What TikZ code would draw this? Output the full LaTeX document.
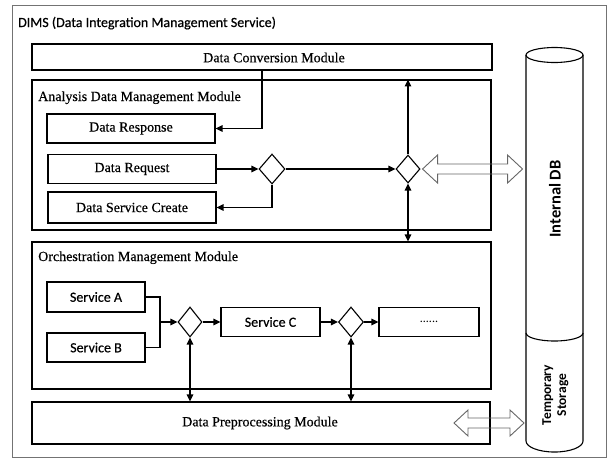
\documentclass[tikz,border=0pt]{standalone}
\usepackage{fontspec}
\setmainfont{Liberation Serif}
\newfontfamily\calib{Carlito}
\usetikzlibrary{arrows.meta,shapes.geometric,calc}
% slightly heavier strokes for all labels
\newcommand{\serifl}{\fontsize{14}{16}\selectfont\addfontfeature{FakeBold=0.5}}
\newcommand{\sansl}{\calib\fontsize{14}{16}\selectfont\addfontfeature{FakeBold=0.5}}
\begin{document}
\begin{tikzpicture}[x=1pt,y=-1pt,
  frame/.style={draw=black!55,line width=0.8pt},
  module/.style={draw,line width=1.1pt,rectangle,inner sep=0pt},
  item/.style={draw,line width=1.1pt,rectangle,inner sep=0pt,font=\serifl},
  svc/.style={item,font=\sansl},
  gate/.style={draw,line width=1.1pt,diamond,inner sep=0pt},
  title/.style={anchor=base west,inner sep=0pt,font=\serifl},
  link/.style={line width=1.3pt},
  arr/.style={link,-{Triangle[length=7pt,width=6.5pt]}},
  biarr/.style={link,{Triangle[length=7pt,width=6.5pt]}-{Triangle[length=7pt,width=6.5pt]}},
  hollow/.style={draw=black!60,line width=0.9pt,line join=miter},
  store/.style={line width=1.1pt}
]
\useasboundingbox (0,0) rectangle (609,467);

% outer service frame
\node[frame,rectangle,inner sep=0pt,minimum width=594pt,minimum height=452pt] (dims) at (309,231.5) {};
\node[anchor=base west,inner sep=0pt,font=\sansl] (dimst) at (18,27)
  {DIMS (Data Integration Management Service)};

% data conversion module
\node[module,minimum width=460pt,minimum height=26pt] (conv) at (262,57) {};
\node[inner sep=0pt,font=\serifl] (convt) at (274,57.5) {Data Conversion Module};

% analysis data management module
\node[module,minimum width=459pt,minimum height=150pt] (ana) at (261.5,155) {};
\node[title] (anat) at (38,101) {Analysis Data Management Module};
\node[item,minimum width=168pt,minimum height=29pt] (resp) at (131,128.5) {Data Response};
\node[item,minimum width=168pt,minimum height=29pt] (req) at (132,169) {Data Request};
\node[item,minimum width=168pt,minimum height=31pt] (dsc) at (132,207.5) {Data Service Create};
\node[gate,minimum width=26pt,minimum height=30pt] (d1) at (272,169) {};
\node[gate,minimum width=24pt,minimum height=28pt] (d2) at (408,169) {};

% orchestration management module
\node[module,minimum width=459pt,minimum height=147pt] (orch) at (261.5,315.5) {};
\node[title] (orcht) at (38,261) {Orchestration Management Module};
\node[svc,minimum width=98pt,minimum height=30pt] (sa) at (96,297) {Service A};
\node[svc,minimum width=98pt,minimum height=29pt] (sb) at (96,347.5) {Service B};
\node[gate,minimum width=24pt,minimum height=30pt] (d3) at (190,322) {};
\node[svc,minimum width=99pt,minimum height=29pt] (sc) at (270.5,322) {Service C};
\node[gate,minimum width=25pt,minimum height=30pt] (d4) at (351,322) {};
\node[svc,minimum width=100pt,minimum height=29pt,font=\calib\fontsize{12}{14}\selectfont] (more) at (429,322) {......};
\coordinate (join) at (160,322);

% data preprocessing module
\node[module,minimum width=458pt,minimum height=42pt] (prep) at (261,423) {};
\node[inner sep=0pt,font=\serifl] (prept) at (260,423) {Data Preprocessing Module};

% storage cylinder: internal DB above temporary storage
\draw[store] (554.5,55) ellipse [x radius=28.5pt, y radius=7.5pt];
\draw[store] (526,55) -- (526,441) arc [start angle=180, end angle=360, x radius=28.5pt, y radius=11pt]
  -- (583,55);
\draw[store] (526,333) arc [start angle=180, end angle=360, x radius=28.5pt, y radius=8pt];
\coordinate (db) at (526,169);
\coordinate (tmp) at (526,423);
\node[rotate=90,inner sep=0pt,font=\calib\bfseries\fontsize{16.5}{18}\selectfont] (dbt) at (555,199) {Internal DB};
\node[rotate=90,inner sep=0pt,align=center,font=\calib\bfseries\fontsize{13.5}{15}\selectfont] (tmpt) at (555.5,395)
  {Temporary\\Storage};

% control flow in the analysis module
\draw[arr] (conv.south) |- (resp.east);
\draw[arr] (req.east) -- (d1.west);
\draw[arr] (d1.east) -- (d2.west);
\draw[arr] (d1.south) |- (dsc.east);
\draw[arr] (d2.north) -- (d2.north |- ana.north);
\draw[biarr] (d2.south) -- (d2.south |- orch.north);

% control flow in the orchestration module
\draw[link] (sa.east) -| (join);
\draw[link] (sb.east) -| (join);
\draw[arr] (join) -- (d3.west);
\draw[arr] (d3.east) -- (sc.west);
\draw[arr] (sc.east) -- (d4.west);
\draw[arr] (d4.east) -- (more.west);
\draw[biarr] (d3.south) -- (d3.south |- prep.north);
\draw[biarr] (d4.south) -- (d4.south |- prep.north);

% hollow two-way data transfers to storage
\draw[hollow] ($(d2.east)+(2,0)$) -- ++(15,-14) -- ++(0,9) -- ++(70,0) -- ++(0,-9) -- ++(15,14)
  -- ++(-15,14) -- ++(0,-9) -- ++(-70,0) -- ++(0,9) -- cycle;
\draw[hollow] ($(tmp)+(-72,0)$) -- ++(14,-13) -- ++(0,8) -- ++(42,0) -- ++(0,-8) -- ++(14,13)
  -- ++(-14,13) -- ++(0,-8) -- ++(-42,0) -- ++(0,8) -- cycle;
\end{tikzpicture}
\end{document}
